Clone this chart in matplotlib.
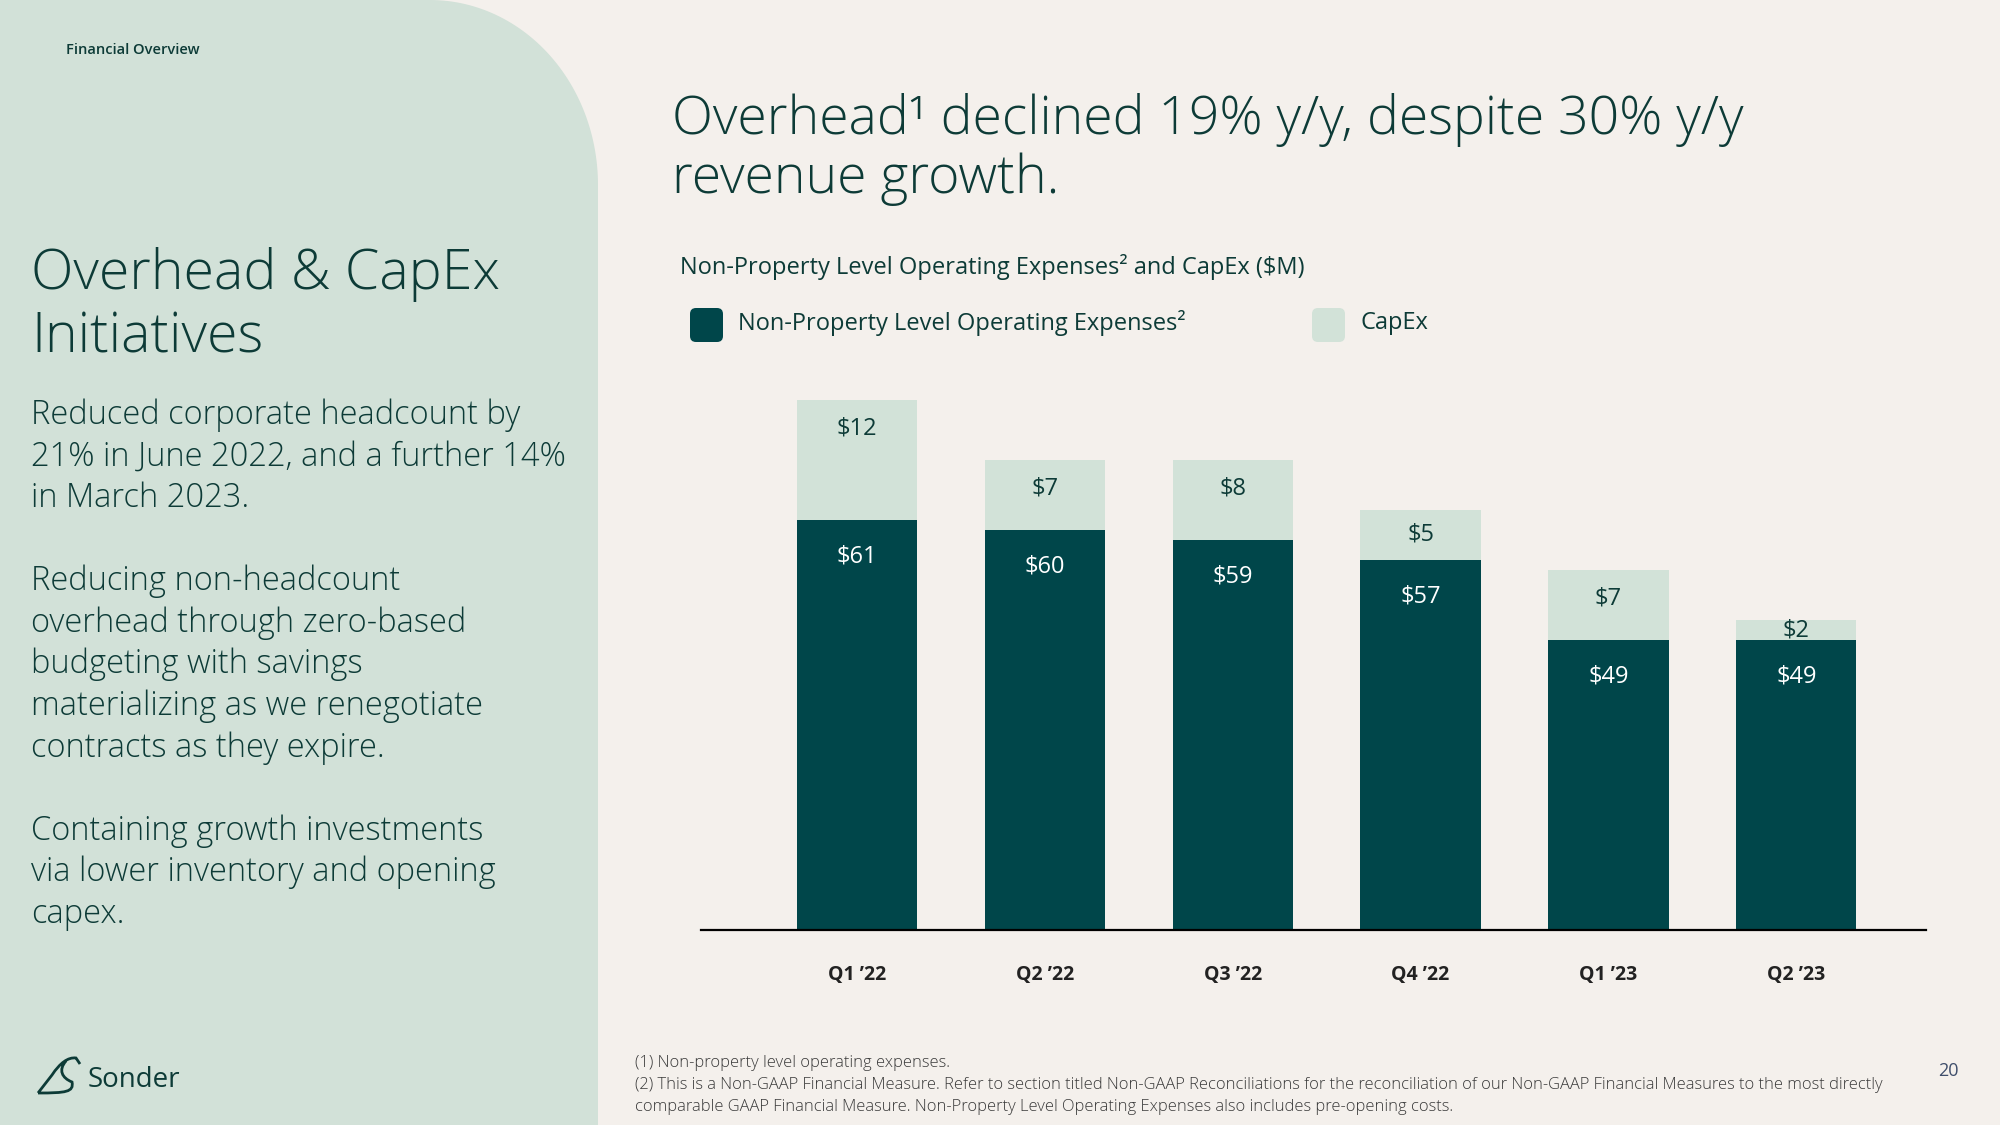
import matplotlib
matplotlib.use("Agg")
import matplotlib.pyplot as plt
from matplotlib.patches import Polygon, FancyBboxPatch
from matplotlib.path import Path
from matplotlib.patches import PathPatch
import numpy as np

plt.rcParams['font.family'] = ['Open Sans', 'DejaVu Sans']

quarters = ["Q1 \u201922", "Q2 \u201922", "Q3 \u201922", "Q4 \u201922", "Q1 \u201923", "Q2 \u201923"]
opex = [61, 60, 59, 57, 49, 49]
capex = [12, 7, 8, 5, 7, 2]

DARK = '#00464a'
LIGHT = '#d2e2d8'
PANEL = '#d2e1d8'
BG = '#f4f0ec'
TXT = '#0d3b37'

fig = plt.figure(figsize=(20, 11.25), dpi=100, facecolor=BG)

# background layer in pixel coordinates
bg = fig.add_axes([0, 0, 1, 1], zorder=0)
bg.set_xlim(0, 2000)
bg.set_ylim(1125, 0)
bg.axis('off')

# left panel with rounded top-right corner
t = np.linspace(-np.pi / 2, 0, 60)
arc = np.column_stack([430 + 168 * np.cos(t), 185 + 185 * np.sin(t)])
pts = np.vstack([[0, 0], arc, [598, 1125], [0, 1125]])
bg.add_patch(Polygon(pts, closed=True, facecolor=PANEL, edgecolor='none'))

bg.text(66, 50, "Financial Overview", fontsize=10.5, color=TXT, va='center', fontweight='semibold')
bg.text(31, 275, "Overhead & CapEx", fontsize=40, color=TXT, va='center', fontweight='light')
bg.text(31, 338, "Initiatives", fontsize=40, color=TXT, va='center', fontweight='light')

body = ["Reduced corporate headcount by", "21% in June 2022, and a further 14%", "in March 2023.", "",
        "Reducing non-headcount", "overhead through zero-based", "budgeting with savings",
        "materializing as we renegotiate", "contracts as they expire.", "",
        "Containing growth investments", "via lower inventory and opening", "capex."]
for i, line in enumerate(body):
    bg.text(31, 415 + i * 41.6, line, fontsize=23.5, color=TXT, va='center', fontweight='light')

# Sonder logo (rough)
bird = Path([(38, 1093), (52, 1075), (60, 1063), (68, 1057), (76, 1058), (80, 1064),
             (66, 1061), (58, 1070), (62, 1078), (72, 1082), (74, 1092), (66, 1093), (38, 1093)],
            [Path.MOVETO, Path.LINETO, Path.CURVE4, Path.CURVE4, Path.CURVE4, Path.LINETO,
             Path.MOVETO, Path.CURVE4, Path.CURVE4, Path.CURVE4, Path.CURVE4, Path.CURVE4, Path.LINETO])
bg.add_patch(PathPatch(bird, facecolor='none', edgecolor=TXT, lw=2))
bg.text(88, 1080, "Sonder", fontsize=20, color=TXT, va='center')

# right side texts
bg.text(672, 120, "Overhead\u00b9 declined 19% y/y, despite 30% y/y", fontsize=38.5, color=TXT,
        va='center', fontweight='light')
bg.text(672, 179, "revenue growth.", fontsize=38.5, color=TXT, va='center', fontweight='light')
bg.text(680, 267, "Non-Property Level Operating Expenses\u00b2 and CapEx ($M)", fontsize=17,
        color=TXT, va='center', fontweight='medium')

# legend
bg.add_patch(FancyBboxPatch((690, 308), 33, 34, boxstyle="round,pad=0,rounding_size=6",
                            facecolor=DARK, edgecolor='none'))
bg.text(738, 323, "Non-Property Level Operating Expenses\u00b2", fontsize=17, color=TXT, va='center')
bg.add_patch(FancyBboxPatch((1312, 308), 33, 34, boxstyle="round,pad=0,rounding_size=6",
                            facecolor=LIGHT, edgecolor='none'))
bg.text(1360, 323, "CapEx", fontsize=17, color=TXT, va='center')

# footnotes
notes = ["(1) Non-property level operating expenses.",
         "(2) This is a Non-GAAP Financial Measure. Refer to section titled Non-GAAP Reconciliations for the reconciliation of our Non-GAAP Financial Measures to the most directly",
         "comparable GAAP Financial Measure. Non-Property Level Operating Expenses also includes pre-opening costs."]
for i, n in enumerate(notes):
    bg.text(635, 1063 + i * 22, n, fontsize=11.9, color='#3a3a3a', va='center', fontweight='light')
bg.text(1948, 1071, "20", fontsize=13, color='#3f4e6b', va='center', ha='center')

# chart
ax = fig.add_axes([701 / 2000, 1 - 930 / 1125, 1225 / 2000, 550 / 1125], zorder=1)
ax.set_facecolor('none')
x = np.arange(len(quarters))
ax.bar(x, opex, width=0.64, color=DARK)
ax.bar(x, capex, width=0.64, bottom=opex, color=LIGHT)
ax.set_xlim(-0.83, 5.69)
ax.set_ylim(20, 75)
for s in ['top', 'right', 'left']:
    ax.spines[s].set_visible(False)
ax.spines['bottom'].set_linewidth(1.6)
ax.spines['bottom'].set_color('black')
ax.set_yticks([])
ax.set_xticks(x)
ax.set_xticklabels(quarters, fontsize=14, fontweight='bold', color='#222222')
ax.tick_params(axis='x', length=0, pad=25)

for i in range(len(x)):
    ax.text(x[i], opex[i] - 3.7, f"${opex[i]}", ha='center', va='center', color='white',
            fontsize=17)
    total = opex[i] + capex[i]
    yl = max(total - 2.9, opex[i] + capex[i] / 2)
    ax.text(x[i], yl, f"${capex[i]}", ha='center', va='center', color=TXT, fontsize=17)

fig.savefig('out.png', dpi=100, facecolor=BG)
